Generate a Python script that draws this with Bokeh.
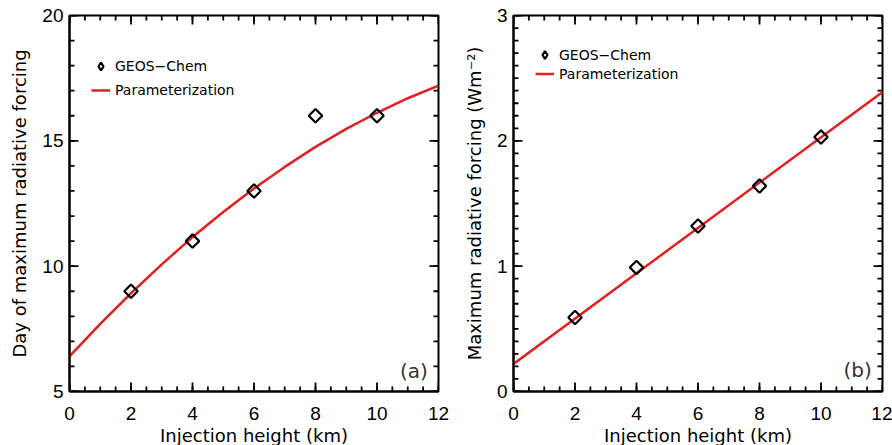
import math
from bokeh.plotting import figure
from bokeh.models import Range1d, SingleIntervalTicker, Legend, LegendItem, Label
from bokeh.layouts import row
from bokeh.embed import file_html
from bokeh.resources import INLINE

# ---- data ----
height_km = [2, 4, 6, 8, 10]
day_geos = [9.0, 11.0, 13.0, 16.0, 16.0]
rf_geos = [0.59, 0.99, 1.32, 1.64, 2.03]

param_height = [0, 1, 2, 3, 4, 5, 6, 7, 8, 9, 10, 11, 12]
day_param = [6.40, 7.70, 8.92, 10.07, 11.16, 12.16, 13.10, 13.96, 14.76,
             15.48, 16.12, 16.70, 17.20]
rf_param_height = [0, 12]
rf_param = [0.22, 2.39]

x_label = "Injection height (km)"
y_label_a = "Day of maximum radiative forcing"
y_label_b = "Maximum radiative forcing (Wm\u207b\u00b2)"

RED = "#e3201f"
TICK_FONT = "Liberation Sans"
TEXT_FONT = "DejaVu Sans"
FRAME_W = 369
FRAME_H = 376


def style_axis(ax, standoff, label_standoff):
    ax.axis_line_color = "black"
    ax.axis_line_width = 2
    ax.major_tick_in = 0
    ax.major_tick_out = 0
    ax.minor_tick_in = 0
    ax.minor_tick_out = 0
    ax.major_label_text_font = TICK_FONT
    ax.major_label_text_font_size = "19px"
    ax.major_label_text_color = "black"
    ax.major_label_standoff = standoff
    ax.axis_label_text_font = TEXT_FONT
    ax.axis_label_text_font_size = "18px"
    ax.axis_label_text_font_style = "normal"
    ax.axis_label_text_color = "black"
    ax.axis_label_standoff = label_standoff


def frange(a, b, step):
    n = int(round((b - a) / step))
    return [float(a + i * step) for i in range(n + 1)]


def add_ticks(p, fw, fh, x0, x1, y0, y1, x_major, x_minor, y_major, y_minor):
    # inward ticks on all four sides, lengths given in pixels
    dxp = (x1 - x0) / fw
    dyp = (y1 - y0) / fh
    kw = dict(line_color="black", line_width=1.8)
    for ticks, ln in ((x_major, 9), (x_minor, 5)):
        n = len(ticks)
        p.segment(x0=ticks, y0=[float(y0)] * n, x1=ticks,
                  y1=[float(y0 + ln * dyp)] * n, **kw)
        p.segment(x0=ticks, y0=[float(y1)] * n, x1=ticks,
                  y1=[float(y1 - ln * dyp)] * n, **kw)
    for ticks, ln in ((y_major, 9), (y_minor, 5)):
        n = len(ticks)
        p.segment(x0=[float(x0)] * n, y0=ticks, x1=[float(x0 + ln * dxp)] * n,
                  y1=ticks, **kw)
        p.segment(x0=[float(x1)] * n, y0=ticks, x1=[float(x1 - ln * dxp)] * n,
                  y1=ticks, **kw)


def make_panel(left, right, y0, y1, y_int, y_minor_step, xs, ys, px, py,
               ylab, tag, tag_y, vx, vy, gh, sp):
    p = figure(frame_width=FRAME_W, frame_height=FRAME_H, output_backend="svg",
               toolbar_location=None, x_range=Range1d(0, 12),
               y_range=Range1d(y0, y1), min_border_left=left,
               min_border_right=right, min_border_top=15,
               min_border_bottom=54)
    p.xgrid.visible = False
    p.ygrid.visible = False
    p.outline_line_color = "black"
    p.outline_line_width = 2

    p.xaxis.ticker = SingleIntervalTicker(interval=2, num_minor_ticks=4)
    p.yaxis.ticker = SingleIntervalTicker(interval=y_int, num_minor_ticks=5)
    p.xaxis.axis_label = x_label
    p.yaxis.axis_label = ylab
    for ax in p.xaxis:
        style_axis(ax, 15, 2)
    for ax in p.yaxis:
        style_axis(ax, 6, 9)

    add_ticks(p, FRAME_W, FRAME_H, 0, 12, y0, y1,
              frange(0, 12, 2), frange(0, 12, 0.5),
              frange(y0, y1, y_int), frange(y0, y1, y_minor_step))

    ln = p.line(px, py, line_color=RED, line_width=2.5)
    p.scatter(xs, ys, marker="square", angle=math.pi / 4, size=9.5,
              fill_color=None, line_color="black", line_width=2.2)
    # legend key renderer (diamond), kept hidden in the plot area
    key = p.scatter(xs, ys, marker="diamond", fill_color=None,
                    line_color="black", line_width=2.2, visible=False)

    leg = Legend(items=[LegendItem(label="GEOS\u2212Chem", renderers=[key]),
                        LegendItem(label="Parameterization", renderers=[ln])],
                 location=(vx, vy), margin=0, padding=0, spacing=sp,
                 glyph_width=19, glyph_height=gh, label_height=gh,
                 label_standoff=5, border_line_color=None,
                 background_fill_alpha=0, inactive_fill_alpha=0,
                 label_text_font=TEXT_FONT, label_text_font_size="14px",
                 label_text_color="black")
    p.add_layout(leg, "center")

    p.add_layout(Label(x=11.65, y=tag_y, text=tag, text_align="right",
                       text_baseline="middle", text_font=TEXT_FONT,
                       text_font_size="20px", text_color="#333333"))
    return p


pa = make_panel(69, 12, 5, 20, 5, 1, height_km, day_geos,
                param_height, day_param, y_label_a, "(a)", 5.8,
                22, 290, 22, 2)
pb = make_panel(63, 10, 0, 3, 1, 0.1, height_km, rf_geos,
                rf_param_height, rf_param, y_label_b, "(b)", 0.17,
                22, 308, 19, 0)

layout = row(pa, pb)
open("out.html", "w").write(file_html(layout, INLINE))
